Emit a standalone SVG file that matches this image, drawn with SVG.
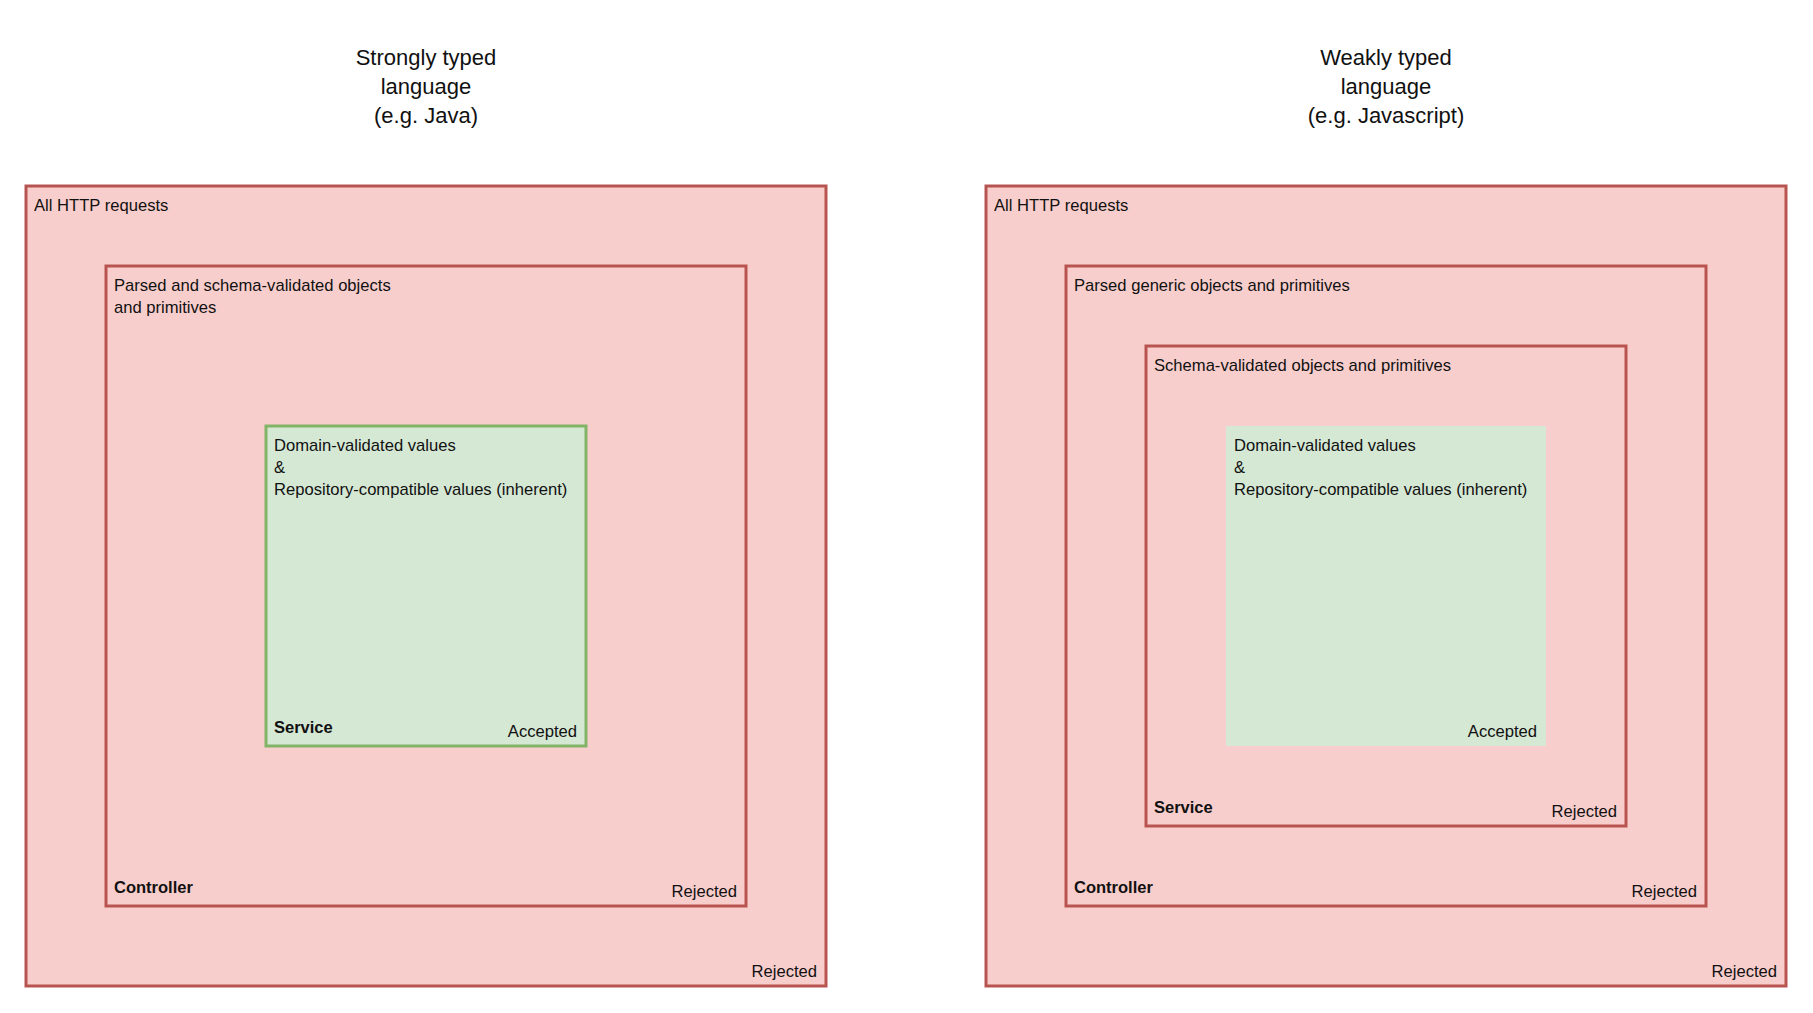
<svg xmlns="http://www.w3.org/2000/svg" width="1813" height="1013" viewBox="0 0 1813 1013">
<style>
  .bad { fill: #f8cecc; stroke: #b85450; stroke-width: 3; }
  .good { fill: #d5e8d4; stroke: #82b366; stroke-width: 3; }
  .goodplain { fill: #d5e8d4; stroke: none; }
  text { font-family: "Liberation Sans", Arial, sans-serif; fill: #111; }
  .lbl { font-size: 16.6px; }
  .b { font-size: 16.5px; font-weight: bold; }
  .r { font-size: 16.6px; text-anchor: end; }
  .title { font-size: 22px; text-anchor: middle; }
</style>
<rect width="1813" height="1013" fill="#ffffff"/>

<g id="title-left">
  <text class="title" x="426" y="65">Strongly typed</text>
  <text class="title" x="426" y="94">language</text>
  <text class="title" x="426" y="123">(e.g. Java)</text>
</g>
<g id="title-right">
  <text class="title" x="1386" y="65">Weakly typed</text>
  <text class="title" x="1386" y="94">language</text>
  <text class="title" x="1386" y="123">(e.g. Javascript)</text>
</g>

<!-- Left: strongly typed -->
<g id="left-all">
  <rect class="bad" x="26" y="186" width="800" height="800"/>
  <text class="lbl" x="34" y="211">All HTTP requests</text>
  <text class="r" x="817" y="977">Rejected</text>
</g>
<g id="left-controller">
  <rect class="bad" x="106" y="266" width="640" height="640"/>
  <text class="lbl" x="114" y="291">Parsed and schema-validated objects</text>
  <text class="lbl" x="114" y="313">and primitives</text>
  <text class="b" x="114" y="893">Controller</text>
  <text class="r" x="737" y="897">Rejected</text>
</g>
<g id="left-service">
  <rect class="good" x="266" y="426" width="320" height="320"/>
  <text class="lbl" x="274" y="451">Domain-validated values</text>
  <text class="lbl" x="274" y="473">&amp;</text>
  <text class="lbl" x="274" y="495">Repository-compatible values (inherent)</text>
  <text class="b" x="274" y="733">Service</text>
  <text class="r" x="577" y="737">Accepted</text>
</g>

<!-- Right: weakly typed -->
<g id="right-all">
  <rect class="bad" x="986" y="186" width="800" height="800"/>
  <text class="lbl" x="994" y="211">All HTTP requests</text>
  <text class="r" x="1777" y="977">Rejected</text>
</g>
<g id="right-controller">
  <rect class="bad" x="1066" y="266" width="640" height="640"/>
  <text class="lbl" x="1074" y="291">Parsed generic objects and primitives</text>
  <text class="b" x="1074" y="893">Controller</text>
  <text class="r" x="1697" y="897">Rejected</text>
</g>
<g id="right-service">
  <rect class="bad" x="1146" y="346" width="480" height="480"/>
  <text class="lbl" x="1154" y="371">Schema-validated objects and primitives</text>
  <text class="b" x="1154" y="813">Service</text>
  <text class="r" x="1617" y="817">Rejected</text>
</g>
<g id="right-accepted">
  <rect class="goodplain" x="1226" y="426" width="320" height="320"/>
  <text class="lbl" x="1234" y="451">Domain-validated values</text>
  <text class="lbl" x="1234" y="473">&amp;</text>
  <text class="lbl" x="1234" y="495">Repository-compatible values (inherent)</text>
  <text class="r" x="1537" y="737">Accepted</text>
</g>

<g id="connectors"></g>
</svg>
